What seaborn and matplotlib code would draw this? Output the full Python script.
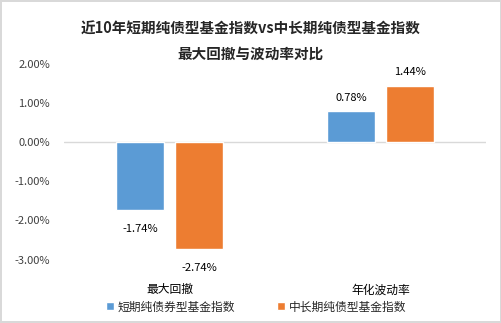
import matplotlib
matplotlib.use("Agg")
import matplotlib.pyplot as plt
import seaborn as sns
import pandas as pd
from matplotlib.ticker import FuncFormatter
from matplotlib.patches import Patch

categories = ["最大回撤", "年化波动率"]
series_names = ["短期纯债券型基金指数", "中长期纯债型基金指数"]
short_vals = [-0.0174, 0.0078]
long_vals = [-0.0274, 0.0144]
colors = ["#5B9BD5", "#ED7D31"]

sns.set_theme(style="white")
plt.rcParams['font.family'] = ['Noto Sans CJK SC', 'DejaVu Sans']
plt.rcParams['axes.unicode_minus'] = False

df = pd.DataFrame({
    "cat": categories * 2,
    "series": [series_names[0]] * 2 + [series_names[1]] * 2,
    "val": short_vals + long_vals,
})

fig = plt.figure(figsize=(5.02, 3.23), dpi=100, edgecolor="#d9d9d9", linewidth=1.5)
ax = fig.add_axes([0.1275, 0.196, 0.8405, 0.607])
sns.barplot(data=df, x="cat", y="val", hue="series", palette=colors, width=0.56,
            gap=0.2, ax=ax, legend=False, saturation=1)

ax.set_ylim(-0.03, 0.02)
ax.set_yticks([-0.03, -0.02, -0.01, 0, 0.01, 0.02])
ax.yaxis.set_major_formatter(FuncFormatter(lambda v, p: f"{v*100:.2f}%"))
ax.tick_params(axis='y', labelsize=8, colors="#404040", length=0, pad=10)
ax.tick_params(axis='x', labelsize=8.5, colors="#000000", length=0, pad=17)
for s in ax.spines.values():
    s.set_visible(False)
ax.axhline(0, color="#d9d9d9", lw=1, zorder=0)
ax.set_xlabel("")
ax.set_ylabel("")
ax.set_xlim(-0.5, 1.5)

for container in ax.containers:
    for bar in container:
        h = bar.get_height()
        x = bar.get_x() + bar.get_width() / 2
        if h < 0:
            ax.annotate(f"{h*100:.2f}%", (x, h), xytext=(0, -10), textcoords="offset points",
                        ha="center", va="top", fontsize=8, color="#000000")
        else:
            ax.annotate(f"{h*100:.2f}%", (x, h), xytext=(0, 6), textcoords="offset points",
                        ha="center", va="bottom", fontsize=8, color="#000000")

fig.text(0.5, 0.91, "近10年短期纯债型基金指数vs中长期纯债型基金指数", ha="center", va="center",
         fontsize=10.5, fontweight="bold")
fig.text(0.5, 0.833, "最大回撤与波动率对比", ha="center", va="center",
         fontsize=10.5, fontweight="bold")

handles = [Patch(facecolor=c) for c in colors]
fig.legend(handles, series_names, loc="center", bbox_to_anchor=(0.51, 0.05), ncol=2,
           frameon=False, fontsize=8.5, handlelength=0.7, handleheight=0.7,
           handletextpad=0.3, columnspacing=3.5)

fig.savefig("out.png", dpi=100)
